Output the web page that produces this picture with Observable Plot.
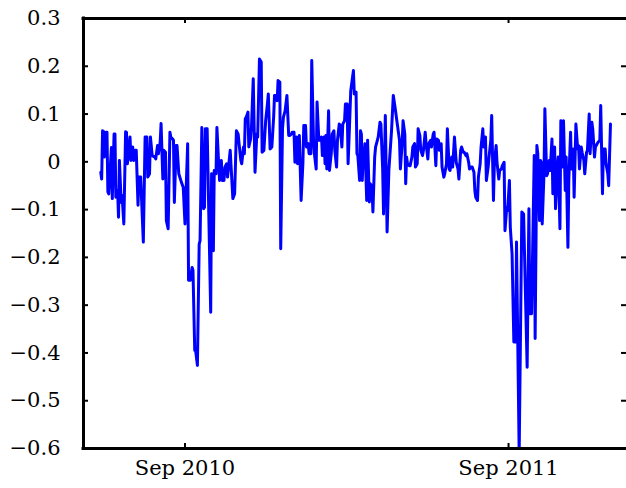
<!DOCTYPE html>
<html><head><meta charset="utf-8">
<script src="https://cdn.jsdelivr.net/npm/d3@7"></script>
<script src="https://cdn.jsdelivr.net/npm/@observablehq/plot@0.6"></script>
<style>html,body{margin:0;padding:0;background:#fff;} svg{display:block}</style>
</head><body><div id="chart"></div>
<script>
// Dates are stored as days since the epoch below (like MATLAB datenums)
const epoch = "2010-09-01";
const days = [
-95,-94,-93,-92,-91,-89,-88,-87,-86,-83,-82,-80,-79,-78,-76,-75,-74,-72,-71,-69,
-67,-66,-65,-62,-61,-59,-58,-56,-55,-53,-52,-50,-47,-45,-43,-42,-40,-39,-37,-34,
-33,-31,-30,-28,-27,-25,-24,-22,-21,-19,-17,-16,-14,-13,-12,-10,-9,-7,-4,-2,0,
3,4,6,8,9,11,12,14,16,17,19,21,22,23,25,29,30,32,33,35,36,38,39,41,42,44,45,47,48,
51,54,56,58,60,61,63,64,66,67,68,69,71,72,74,75,77,79,81,82,84,86,87,89,91,93,94,96,98,100,
101,102,104,105,107,108,110,111,113,115,117,118,120,121,123,124,126,127,129,131,133,134,136,137,139,140,
142,143,145,146,148,149,151,152,154,155,157,158,159,160,162,163,165,166,168,169,171,172,174,175,177,178,
180,181,183,184,185,187,190,191,193,194,195,197,198,199,
200,201,202,203,205,206,208,209,211,212,214,215,217,218,220,221,223,224,226,228,230,233,235,237,239,242,
243,245,246,248,249,250,251,253,254,256,257,259,260,262,263,265,266,268,269,271,272,274,275,277,278,280,
281,283,284,286,287,289,290,292,293,295,296,298,299,301,302,304,
306,308,309,311,312,314,315,317,318,320,321,323,324,326,327,328,330,331,333,334,336,337,339,340,342,343,
345,346,348,349,351,352,354,355,357,358,360,361,363,364,366,367,369,371,373,374,377,380,382,386,388,389,
391,394,395,397,398,400,401,
402,403,405,406,408,409,411,412,414,415,417,418,420,421,423,424,426,427,429,430,432,433,435,436,438,439,
441,443,444,445,447,448,450,451,453,454,456,457,459,460,462,463,465,466,468,469,471,472,474,475,477,478,480
];
const values = [
-0.022,-0.036,0.065,0.064,0.010,0.062,0.062,-0.063,-0.067,0.030,-0.077,0.058,0.058,-0.074,-0.060,-0.116,0.003,-0.085,-0.070,-0.130,
0.063,0.062,-0.004,0.052,0.003,0.031,0.003,0.024,0.024,-0.091,-0.032,-0.032,-0.168,0.052,0.052,-0.032,-0.025,0.052,0.013,0.010,
0.006,0.034,0.017,0.041,0.080,-0.036,0.024,0.020,-0.123,-0.140,0.062,0.052,0.048,0.045,-0.085,0.034,0.034,-0.025,-0.043,-0.053,-0.130,
0.038,-0.248,-0.248,-0.221,-0.227,-0.395,-0.395,-0.426,-0.172,-0.165,0.072,-0.098,-0.095,0.069,0.069,-0.315,-0.025,-0.186,-0.018,-0.025,0.072,-0.004,-0.039,0.003,-0.039,-0.039,-0.011,-0.004,-0.032,
0.024,-0.077,-0.067,0.065,0.058,0.038,0.003,-0.004,0.031,0.017,0.090,0.093,0.104,0.031,0.048,0.072,0.174,-0.022,0.058,0.052,0.215,0.209,0.020,0.024,0.086,0.121,0.142,0.027,0.031,0.093,
0.139,0.139,0.128,0.170,0.167,-0.182,0.069,0.093,0.107,0.139,0.055,0.055,0.058,0.062,0.062,-0.001,0.052,-0.004,0.055,-0.081,-0.004,0.076,0.076,0.031,0.038,0.017,
0.017,0.212,0.045,0.017,-0.015,0.125,0.045,0.045,0.052,0.013,0.052,-0.004,0.055,-0.015,0.107,-0.018,0.017,0.058,0.065,0.024,-0.011,0.045,0.079,0.076,0.031,0.079,
0.086,0.121,0.121,-0.004,0.045,0.149,0.191,0.142,0.146,0.017,0.013,-0.039,0.065,0.058,
-0.039,0.013,0.010,0.038,-0.081,0.045,-0.084,-0.046,-0.053,-0.105,0.010,0.031,0.045,0.052,0.083,0.079,-0.015,-0.109,0.097,-0.147,-0.018,0.065,0.139,0.114,0.086,0.045,
-0.015,0.038,0.086,0.058,-0.046,0.010,-0.004,-0.008,-0.008,0.010,0.031,0.038,-0.011,-0.004,0.069,0.055,0.024,0.013,0.024,0.062,0.038,0.006,0.038,0.045,0.031,0.058,
0.062,-0.008,0.048,0.045,0.024,0.038,-0.011,-0.032,-0.025,-0.004,0.069,-0.015,-0.018,0.010,-0.011,0.052,
-0.001,-0.015,-0.036,0.024,0.031,0.020,0.020,0.013,0.017,-0.001,-0.015,-0.011,-0.011,-0.022,-0.060,-0.074,-0.081,-0.032,-0.004,0.031,0.069,0.031,0.052,-0.039,-0.011,0.010,
0.045,0.097,-0.081,-0.004,0.034,-0.001,-0.036,-0.018,-0.015,-0.008,-0.001,-0.144,-0.095,-0.102,-0.039,-0.137,-0.193,-0.377,-0.377,-0.168,-0.610,-0.105,-0.109,-0.430,-0.098,-0.318,
-0.318,0.013,-0.370,0.034,0.017,-0.123,0.003,
-0.001,-0.130,-0.025,0.111,-0.029,-0.025,0.003,-0.018,0.048,-0.067,0.031,-0.098,-0.011,0.010,-0.140,0.086,-0.011,0.086,-0.060,0.010,-0.179,-0.039,0.062,-0.015,0.027,-0.074,
0.079,0.027,0.034,-0.015,0.031,0.020,0.003,-0.025,0.020,0.024,0.100,0.017,0.083,0.069,0.010,0.031,0.038,0.041,0.045,0.118,-0.067,0.027,0.027,-0.004,-0.025,-0.050,0.079
];
const yTicks = [-0.6,-0.5,-0.4,-0.3,-0.2,-0.1,0,0.1,0.2,0.3];
const yTickLabels = ["\u22120.6","\u22120.5","\u22120.4","\u22120.3","\u22120.2","\u22120.1","0","0.1","0.2","0.3"];
const xTicks = ["2010-09-01","2011-09-01"];
const xTickLabels = ["Sep 2010","Sep 2011"];
const xDomain = ["2010-05-09T12:00:00Z","2012-01-12T02:00:00Z"];
const yDomain = [-0.6, 0.3];

const t0 = Date.parse(epoch + "T00:00:00Z");
const data = days.map((d, i) => ({date: new Date(t0 + d * 864e5), value: values[i]}));
const xTickDates = xTicks.map(s => new Date(s + "T00:00:00Z"));
const xd = xDomain.map(s => new Date(s));

const W = 626, H = 488, mL = 83, mR = 0, mT = 18, mB = 40;
const pw = W - mL - mR, ph = H - mT - mB;
const font = "DejaVu Serif";

const chart = Plot.plot({
  width: W, height: H,
  marginLeft: mL, marginRight: mR, marginTop: mT, marginBottom: mB,
  style: {fontFamily: font, background: "#fff"},
  x: {type: "utc", domain: xd, axis: null},
  y: {domain: yDomain, axis: null},
  marks: [
    Plot.line(data, {x: "date", y: "value", stroke: "#0000ff", strokeWidth: 3, strokeLinejoin: "round", strokeLinecap: "round", clip: true}),
    Plot.tickY(yTicks, {y: d => d, stroke: "black", strokeWidth: 2, insetRight: pw - 5}),
    Plot.tickY(yTicks, {y: d => d, stroke: "black", strokeWidth: 2, insetLeft: pw - 5}),
    Plot.tickX(xTickDates, {x: d => d, stroke: "black", strokeWidth: 2, insetTop: ph - 5}),
    Plot.tickX(xTickDates, {x: d => d, stroke: "black", strokeWidth: 2, insetBottom: ph - 5}),
    Plot.ruleY([yDomain[0], yDomain[1]], {y: d => d, stroke: "black", strokeWidth: 3, strokeLinecap: "square"}),
    Plot.ruleX([xd[0]], {x: d => d, stroke: "black", strokeWidth: 3, strokeLinecap: "square"}),
    Plot.text(yTicks, {y: d => d, text: (d, i) => yTickLabels[i], frameAnchor: "left", dx: -23, textAnchor: "end", fontSize: 21, fontFamily: font}),
    Plot.text(xTickDates, {x: d => d, text: (d, i) => xTickLabels[i], frameAnchor: "bottom", dy: 26, fontSize: 21, fontFamily: font})
  ]
});
document.getElementById("chart").appendChild(chart);
</script>
</body></html>
